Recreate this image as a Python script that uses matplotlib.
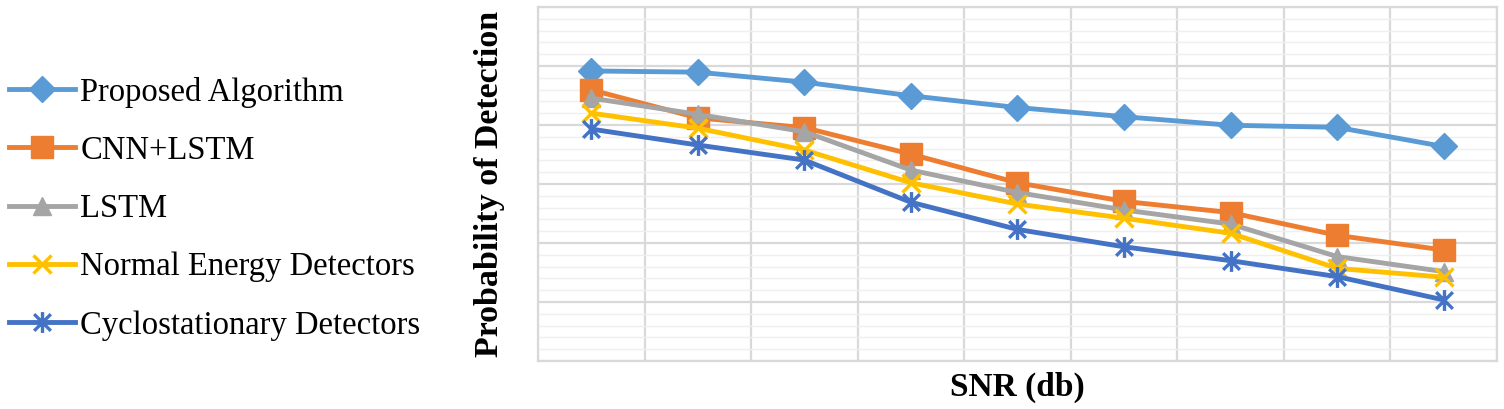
import numpy as np
import matplotlib
matplotlib.use("Agg")
import matplotlib.pyplot as plt
from matplotlib.path import Path
from matplotlib.ticker import MultipleLocator, NullFormatter

# values (y axis has no labels, scale 0..1.2)
series_names = ["Proposed Algorithm", "CNN+LSTM", "LSTM",
                "Normal Energy Detectors", "Cyclostationary Detectors"]
proposed = [0.983, 0.979, 0.945, 0.899, 0.859, 0.828, 0.799, 0.792, 0.727]
cnn_lstm = [0.919, 0.824, 0.791, 0.701, 0.604, 0.541, 0.503, 0.426, 0.376]
lstm = [0.891, 0.836, 0.777, 0.647, 0.571, 0.512, 0.464, 0.354, 0.303]
energy = [0.840, 0.789, 0.715, 0.604, 0.532, 0.484, 0.433, 0.314, 0.284]
cyclo = [0.786, 0.732, 0.681, 0.538, 0.446, 0.387, 0.340, 0.286, 0.207]

colors = ["#5B9BD5", "#ED7D31", "#A5A5A5", "#FFC000", "#4472C4"]

# excel style asterisk: vertical bar plus an X
asterisk = Path([(0, -1), (0, 1), (-0.8, -0.8), (0.8, 0.8), (-0.8, 0.8), (0.8, -0.8)],
                [Path.MOVETO, Path.LINETO, Path.MOVETO, Path.LINETO, Path.MOVETO, Path.LINETO])

styles = [
    dict(marker="D", markersize=13.5),
    dict(marker="s", markersize=16),
    dict(marker="^", markersize=13),
    dict(marker="x", markersize=13, markeredgewidth=2.4),
    dict(marker=asterisk, markersize=15, markeredgewidth=2.4),
]

plt.rcParams["font.family"] = ["Liberation Serif", "DejaVu Serif"]

fig = plt.figure(figsize=(15.04, 4.09), dpi=100)
ax = fig.add_axes([0.3577, 0.1174, 0.6376, 0.8656])

x = np.arange(1, len(proposed) + 1)
for vals, name, col, st in zip([proposed, cnn_lstm, lstm, energy, cyclo],
                               series_names, colors, styles):
    ax.plot(x, vals, color=col, lw=3.5, label=name, markerfacecolor=col,
            markeredgecolor=col, solid_joinstyle="round", **st)

ax.set_xlim(0.5, len(proposed) + 0.5)
ax.set_ylim(0, 1.2)
ax.xaxis.set_major_locator(MultipleLocator(1.0, offset=0.5))
ax.yaxis.set_major_locator(MultipleLocator(0.2))
ax.yaxis.set_minor_locator(MultipleLocator(0.04))
ax.xaxis.set_major_formatter(NullFormatter())
ax.yaxis.set_major_formatter(NullFormatter())
ax.tick_params(which="both", length=0)
ax.grid(which="major", color="#d9d9d9", lw=1.6)
ax.grid(which="minor", axis="y", color="#efefef", lw=1.0)
ax.set_axisbelow(True)
for sp in ax.spines.values():
    sp.set_color("#d9d9d9")
    sp.set_linewidth(1.6)

ax.set_ylabel("Probability of Detection", fontsize=24.5, fontweight="bold", labelpad=20)
ax.set_xlabel("SNR (db)", fontsize=24, fontweight="bold", labelpad=4)

fig.legend(loc="center left", bbox_to_anchor=(-0.003, 0.49), frameon=False,
           fontsize=23.5, handlelength=2.05, handletextpad=0.15, labelspacing=0.85,
           borderaxespad=0)

fig.savefig("out.png", dpi=100, facecolor="white")
